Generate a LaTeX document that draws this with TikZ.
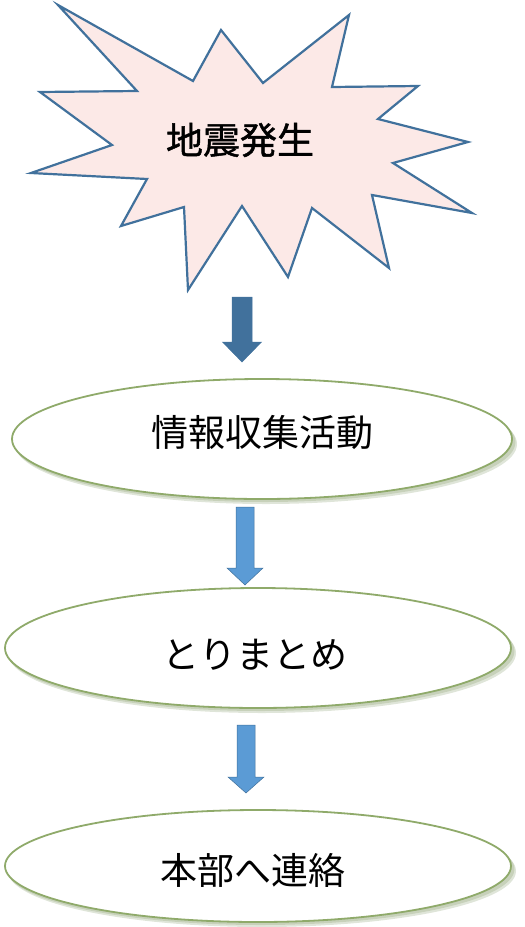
\documentclass[tikz,border=0pt]{standalone}
\usepackage{fontspec}
\usetikzlibrary{shapes.geometric}
\newfontfamily\jp{Noto Sans CJK JP}
\newfontfamily\jpb[FakeBold=1.2]{Noto Sans CJK JP}
\definecolor{starfill}{HTML}{FCE9E7}
\definecolor{starline}{HTML}{41719C}
\definecolor{arrowdark}{HTML}{41719C}
\definecolor{arrowlight}{HTML}{5B9BD5}
\definecolor{ellline}{HTML}{8FAA6A}
\definecolor{ellshadow}{HTML}{6F8A50}
\tikzset{
  txtlabel/.style={font=\jp\fontsize{37}{42}\selectfont, inner sep=0pt},
  starlabel/.style={font=\jpb\fontsize{37}{42}\selectfont, inner sep=0pt},
  ellbox/.style={ellipse, fill=white, draw=ellline, line width=1.8pt, inner sep=0pt},
  shadowbox/.style={fill=ellshadow, opacity=0.22, draw=none},
}
\newcommand{\blockarrow}[7]{%
  \pgfmathsetmacro{\cx}{(#2+#3)/2}
  \fill[#1, draw=arrowdark, line width=0.5pt] (#2,#4) -- (#3,#4) -- (#3,#5) -- (\cx+#6,#5) -- (\cx,#7) -- (\cx-#6,#5) -- (#2,#5) -- cycle;
}
\begin{document}
\begin{tikzpicture}[x=1pt,y=-1pt]
\useasboundingbox (0,0) rectangle (525,927);
% star
\filldraw[fill=starfill, draw=starline, line width=2.2pt, line join=miter]
 (58,5) -- (193,81) -- (221,30) -- (263,83) -- (349,15) -- (332,87) -- (418,86) -- (378,119) -- (468,142) -- (393,163) -- (472,213) -- (372,195) -- (389,268) -- (312,208) -- (288,277) -- (242,206) -- (188,290) -- (184,207) -- (121,226) -- (147,179) -- (31,173) -- (112,145) -- (40,92) -- (137,91) -- cycle;
\node[starlabel] (quake) at (240,140) {地震発生};

% arrows
\blockarrow{arrowdark}{232}{252}{297}{342}{19.5}{362}
\blockarrow{arrowlight}{236}{254}{507}{568}{18}{585}
\blockarrow{arrowlight}{237}{255}{725}{777}{18}{793}

% ellipses with soft shadows
\foreach \cy/\rx/\ry/\ccx in {439/251/60/262, 648/254/60/258, 866/254/56/258} {
  \fill[shadowbox] (\ccx+4,\cy+5) ellipse [x radius=\rx, y radius=\ry];
  \fill[shadowbox] (\ccx+2.5,\cy+3) ellipse [x radius=\rx, y radius=\ry];
}
\node[ellbox, minimum width=500pt, minimum height=120pt] (info) at (262,439) {};
\node[ellbox, minimum width=506pt, minimum height=120pt] (summ) at (258,648) {};
\node[ellbox, minimum width=506pt, minimum height=112pt] (hq) at (258,866) {};
\node[txtlabel] (infot) at (262,432) {情報収集活動};
\node[txtlabel] (summt) at (255,655) {とりまとめ};
\node[txtlabel] (hqt) at (253,870) {本部へ連絡};
\end{tikzpicture}
\end{document}
